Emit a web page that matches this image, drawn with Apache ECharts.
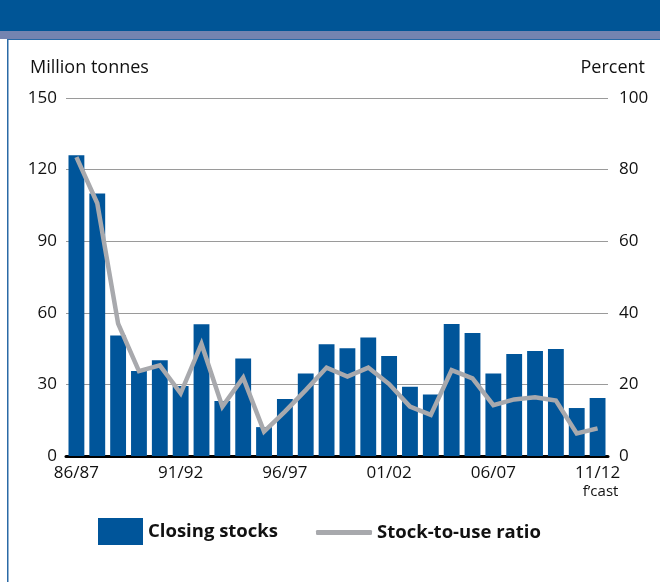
<!DOCTYPE html>
<html>
<head>
<meta charset="utf-8">
<script src="https://cdn.jsdelivr.net/npm/echarts@6/dist/echarts.min.js"></script>
<style>
  html, body { margin: 0; padding: 0; background: #fff; }
  #chart { width: 660px; height: 582px; }
</style>
</head>
<body>
<div id="chart"></div>
<script>
// Crop years, 1986/87 to the 2011/12 forecast
const seasons = ['86/87','87/88','88/89','89/90','90/91','91/92','92/93','93/94','94/95','95/96',
                 '96/97','97/98','98/99','99/00','00/01','01/02','02/03','03/04','04/05','05/06',
                 '06/07','07/08','08/09','09/10','10/11','11/12'];

// Closing stocks, million tonnes
const closingStocks = [126, 110, 50.5, 35.6, 40.1, 29.3, 55.2, 23, 40.9, 12.1,
                       23.9, 34.6, 46.8, 45.1, 49.7, 41.9, 29, 25.8, 55.3, 51.5,
                       34.6, 42.7, 44, 44.8, 20.1, 24.3];

// Stock-to-use ratio, percent
const stockToUse = [83.5, 70.6, 37, 23.7, 25.3, 17.5, 31.3, 13.8, 21.9, 6.8,
                    12.4, 18.4, 24.7, 22.2, 24.7, 20.1, 13.8, 11.5, 24, 21.7,
                    14.2, 15.8, 16.4, 15.5, 6.3, 7.7];

const leftTicks = { min: 0, max: 150, interval: 30 };
const rightTicks = { min: 0, max: 100, interval: 20 };

const FONT = '"Open Sans", "Noto Sans", sans-serif';
const BLUE = '#00559a';
const GREY = '#a8a9ad';

const chart = echarts.init(document.getElementById('chart'), null, { renderer: 'canvas' });

chart.setOption({
  animation: false,
  backgroundColor: '#ffffff',
  textStyle: { fontFamily: FONT },
  graphic: [
    { type: 'rect', left: 0, top: 0, shape: { width: 660, height: 31 }, style: { fill: '#005596' }, silent: true },
    { type: 'rect', left: 0, top: 31, shape: { width: 660, height: 8 }, style: { fill: '#7484b0' }, silent: true },
    { type: 'rect', left: 7, top: 39, shape: { width: 653, height: 1 }, style: { fill: '#2b6aa6' }, silent: true },
    { type: 'rect', left: 7, top: 39, shape: { width: 1.5, height: 543 }, style: { fill: '#2b6aa6' }, silent: true },
    { type: 'text', left: 30, top: 59, style: { text: 'Million tonnes', fill: '#111', font: '18px ' + FONT } },
    { type: 'text', right: 15, top: 59, style: { text: 'Percent', fill: '#111', font: '18px ' + FONT } }
  ],
  grid: { left: 66, right: 52, top: 98, bottom: 126, containLabel: false },
  legend: [
    {
      data: ['Closing stocks'],
      left: 98, top: 518,
      padding: 0,
      icon: 'rect',
      itemWidth: 45, itemHeight: 27,
      textStyle: { fontSize: 18.5, fontWeight: 'bold', color: '#111', fontFamily: FONT },
      selectedMode: false
    },
    {
      data: [{ name: 'Stock-to-use ratio', icon: 'roundRect' }],
      left: 316, top: 523,
      padding: 0,
      itemWidth: 56, itemHeight: 5,
      itemStyle: { color: GREY },
      textStyle: { fontSize: 18.5, fontWeight: 'bold', color: '#111', fontFamily: FONT },
      selectedMode: false
    }
  ],
  xAxis: {
    type: 'category',
    data: seasons,
    boundaryGap: true,
    axisLine: { lineStyle: { color: '#000', width: 3 } },
    axisTick: { show: false },
    axisLabel: {
      interval: 4,
      margin: 9,
      color: '#111',
      fontSize: 17,
      fontFamily: FONT,
      formatter: function (v, i) {
        return i === seasons.length - 1 ? v + '\n{f|f\u2019cast}' : v;
      },
      rich: { f: { fontSize: 15, fontFamily: FONT, color: '#111', lineHeight: 20, padding: [0, 0, 0, 6] } }
    }
  },
  yAxis: [
    {
      type: 'value',
      min: leftTicks.min, max: leftTicks.max, interval: leftTicks.interval,
      position: 'left',
      axisLine: { show: false },
      axisTick: { show: false },
      axisLabel: { margin: 9, color: '#111', fontSize: 17, fontFamily: FONT },
      splitLine: { lineStyle: { color: '#9a9a9a', width: 1.2 } }
    },
    {
      type: 'value',
      min: rightTicks.min, max: rightTicks.max, interval: rightTicks.interval,
      position: 'right',
      axisLine: { show: false },
      axisTick: { show: false },
      axisLabel: { margin: 11, color: '#111', fontSize: 17, fontFamily: FONT },
      splitLine: { show: false }
    }
  ],
  series: [
    {
      name: 'Closing stocks',
      type: 'bar',
      data: closingStocks,
      yAxisIndex: 0,
      barWidth: '76%',
      itemStyle: { color: BLUE },
      z: 2
    },
    {
      name: 'Stock-to-use ratio',
      type: 'line',
      data: stockToUse,
      yAxisIndex: 1,
      showSymbol: false,
      symbol: 'none',
      itemStyle: { color: GREY },
      lineStyle: { color: GREY, width: 4.5, join: 'miter' },
      z: 3
    }
  ]
});
</script>
</body>
</html>
